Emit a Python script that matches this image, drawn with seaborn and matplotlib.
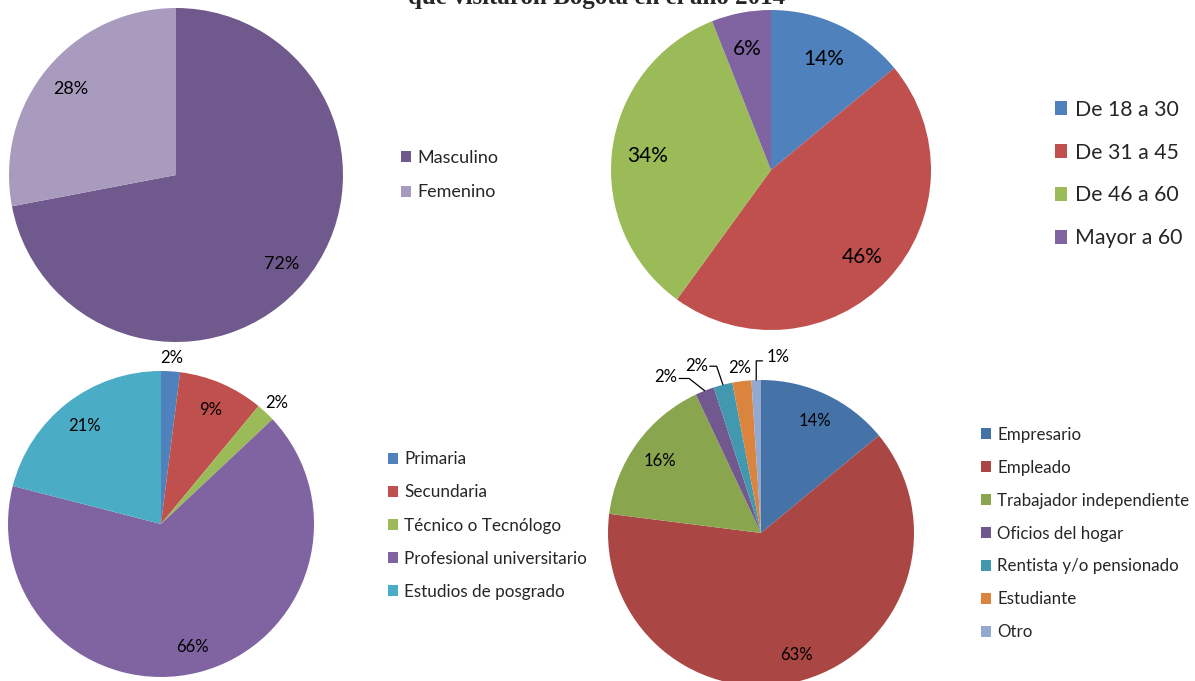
import matplotlib
matplotlib.use("Agg")
import matplotlib.pyplot as plt
import seaborn as sns
import numpy as np

# ---------------- data ----------------
title_text = "que visitaron Bogotá en el año 2014"

gender_labels = ["Masculino", "Femenino"]
gender_values = [72, 28]

age_labels = ["De 18 a 30", "De 31 a 45", "De 46 a 60", "Mayor a 60"]
age_values = [14, 46, 34, 6]

edu_labels = ["Primaria", "Secundaria", "Técnico o Tecnólogo",
              "Profesional universitario", "Estudios de posgrado"]
edu_values = [2, 9, 2, 66, 21]

occ_labels = ["Empresario", "Empleado", "Trabajador independiente",
              "Oficios del hogar", "Rentista y/o pensionado", "Estudiante", "Otro"]
occ_values = [14, 63, 16, 2, 2, 2, 1]

# ---------------- style ----------------
sns.set_theme(style="white")
plt.rcParams["font.family"] = ["Lato", "DejaVu Sans"]

gender_colors = sns.color_palette(["#70598C", "#A99BBE"])
age_colors = sns.color_palette(["#4F81BD", "#C0504D", "#9BBB59", "#8064A2"])
edu_colors = sns.color_palette(["#4F81BD", "#C0504D", "#9BBB59", "#8064A2", "#4BACC6"])
occ_colors = sns.color_palette(["#4572A7", "#AA4643", "#89A54E", "#71588F",
                                "#4198AF", "#DB843D", "#93A9CF"])

W, H = 1195, 681
fig = plt.figure(figsize=(W / 100, H / 100), dpi=100)
fig.patch.set_facecolor("white")


def pie_axes(cx, cy, r):
    ax = fig.add_axes([(cx - r) / W, (H - cy - r) / H, 2 * r / W, 2 * r / H])
    return ax


def draw_pie(ax, values, colors):
    wedges, _ = ax.pie(values, colors=colors, startangle=90, counterclock=False,
                       radius=1, wedgeprops=dict(linewidth=0, antialiased=True))
    ax.set_xlim(-1, 1)
    ax.set_ylim(-1, 1)
    ax.set_aspect("equal")
    ax.axis("off")
    mids = [np.deg2rad((w.theta1 + w.theta2) / 2) for w in wedges]
    return wedges, mids


def legend_at(handles, labels, x, yc, fs, spacing, hl):
    fig.legend(handles, labels, loc="center left",
               bbox_to_anchor=(x / W, 1 - yc / H), frameon=False,
               fontsize=fs, handlelength=hl, handleheight=hl,
               handletextpad=0.35, labelspacing=spacing,
               borderpad=0, borderaxespad=0)


VA = "center_baseline"

# ---- Pie 1: gender ----
ax1 = pie_axes(176, 175, 167)
w1, m1 = draw_pie(ax1, gender_values, gender_colors)
for ang, v in zip(m1, gender_values):
    ax1.text(0.82 * np.cos(ang), 0.82 * np.sin(ang), f"{v}%", ha="center",
             va=VA, fontsize=13, color="black")
legend_at(w1, gender_labels, 401, 175, 13, 1.05, 0.55)

# ---- Pie 2: age ----
ax2 = pie_axes(771, 170, 160)
w2, m2 = draw_pie(ax2, age_values, age_colors)
for ang, v in zip(m2, age_values):
    ax2.text(0.78 * np.cos(ang), 0.78 * np.sin(ang), f"{v}%", ha="center",
             va=VA, fontsize=15, color="black")
legend_at(w2, age_labels, 1055, 174, 15.3, 1.08, 0.58)

# ---- Pie 3: education ----
ax3 = pie_axes(161, 524, 153)
w3, m3 = draw_pie(ax3, edu_values, edu_colors)
for ang, v in zip(m3, edu_values):
    d = 1.1 if v < 5 else 0.82
    ax3.text(d * np.cos(ang), d * np.sin(ang), f"{v}%", ha="center",
             va=VA, fontsize=12, color="black")
legend_at(w3, edu_labels, 388, 525.5, 12.3, 1.0, 0.6)

# ---- Pie 4: occupation ----
ax4 = pie_axes(761, 533, 153)
w4, m4 = draw_pie(ax4, occ_values, occ_colors)
# label layout for small slices (label centre, leader elbow) in radius units
small_layout = {
    3: ((-0.62, 1.03), (-0.47, 1.01), "left"),
    4: ((-0.42, 1.10), (-0.29, 1.09), "left"),
    5: ((-0.14, 1.09), None, None),
    6: ((0.11, 1.16), (-0.031, 1.125), "right"),
}
for i, (ang, v) in enumerate(zip(m4, occ_values)):
    if v >= 5:
        ax4.text(0.82 * np.cos(ang), 0.82 * np.sin(ang), f"{v}%", ha="center",
                 va=VA, fontsize=12, color="black")
    else:
        (lx, ly), elbow, side = small_layout[i]
        ax4.text(lx, ly, f"{v}%", ha="center", va=VA, fontsize=12,
                 color="black")
        if elbow is not None:
            ex, ey = np.cos(ang), np.sin(ang)
            if side == "left":
                xs = [lx + 0.085, elbow[0], ex]
            else:
                xs = [lx - 0.1, elbow[0], ex]
            ys = [elbow[1], elbow[1], ey]
            ax4.plot(xs, ys, color="black", lw=0.9, clip_on=False)
legend_at(w4, occ_labels, 981, 533.5, 12.2, 1.0, 0.6)

# ---- cut-off title ----
fig.text(597 / W, 1 - 4 / H, title_text, ha="center", va="baseline",
         fontsize=18, fontweight="bold", family=["Liberation Serif", "DejaVu Serif"])

fig.savefig("out.png", dpi=100, facecolor="white")
